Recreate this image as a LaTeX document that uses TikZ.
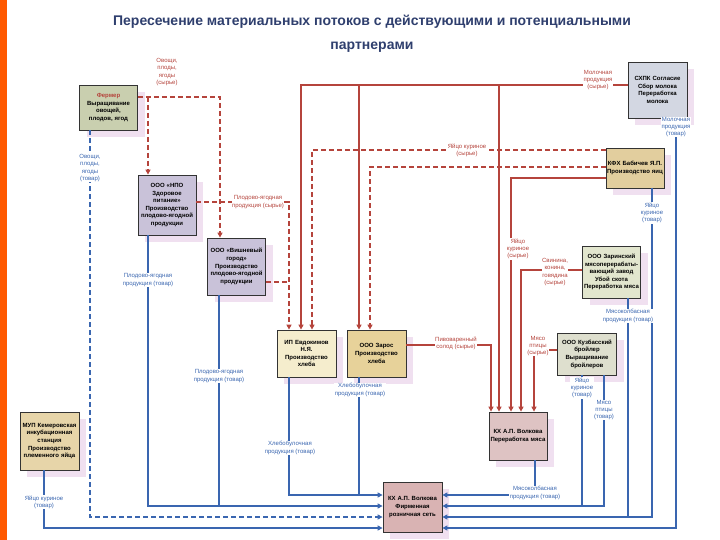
\documentclass[tikz,border=0pt]{standalone}
\usepackage{fontspec}
\setmainfont{Liberation Sans}
\usetikzlibrary{arrows.meta,shadows}
\definecolor{rl}{HTML}{B5443C}
\definecolor{bl}{HTML}{3A66B0}
\definecolor{tt}{HTML}{2F3F6E}
\definecolor{cferm}{HTML}{C9CFAF}
\definecolor{clav}{HTML}{C9C2D9}
\definecolor{cschpk}{HTML}{D3D7E2}
\definecolor{ckfh}{HTML}{E2CE9E}
\definecolor{czar}{HTML}{E2E6CE}
\definecolor{cip}{HTML}{F5EDCD}
\definecolor{czaros}{HTML}{E7D29A}
\definecolor{ckuz}{HTML}{DEDFCE}
\definecolor{ckxp}{HTML}{DEC3C3}
\definecolor{ckxr}{HTML}{D9B3B3}
\definecolor{cmup}{HTML}{E7D5A9}
\begin{document}
\begin{tikzpicture}[x=1pt,y=-1pt,
 box/.style={draw=black!80,line width=0.8pt,align=center,font=\fontsize{6}{7.6}\selectfont\bfseries,inner sep=1pt,
   general shadow={shadow xshift=7pt,shadow yshift=-7pt,fill=violet!12}},
 rs/.style={draw=rl,line width=1.4pt},
 rd/.style={draw=rl,line width=1.4pt,dash pattern=on 5pt off 3pt},
 bs/.style={draw=bl,line width=1.4pt},
 bd/.style={draw=bl,line width=1.4pt,dash pattern=on 5pt off 3pt},
 ar/.style={-{Triangle[length=5pt,width=5pt]}},
 rlab/.style={text=rl,fill=white,align=center,font=\fontsize{6}{7.2}\selectfont,inner sep=0.5pt},
 blab/.style={text=bl,fill=white,align=center,font=\fontsize{6}{7.2}\selectfont,inner sep=0.5pt}]
\useasboundingbox (0,0) rectangle (720,540);
\fill[white] (0,0) rectangle (720,540);
\fill[orange!70!red] (0,0) rectangle (7,540);
\node[text=tt,font=\fontsize{14}{24}\selectfont\bfseries,align=center] (title) at (372,34)
 {Пересечение материальных потоков с действующими и потенциальными\\партнерами};
% boxes
\node[box,fill=cferm,minimum width=57,minimum height=45,text width=56] (ferm) at (108.5,107.5) {\textcolor{rl}{Фермер}\\Выращивание овощей, плодов, ягод};
\node[box,fill=clav,minimum width=58,minimum height=60,text width=56] (npo) at (167,205) {ООО «НПО Здоровое питание» Производство плодово-ягодной продукции};
\node[box,fill=clav,minimum width=57,minimum height=57,text width=56] (vish) at (236.5,266.5) {ООО «Вишневый город» Производство плодово-ягодной продукции};
\node[box,fill=cschpk,minimum width=59,minimum height=56,text width=56] (schpk) at (657.5,90) {СХПК Согласие Сбор молока Переработка молока};
\node[box,fill=ckfh,minimum width=58,minimum height=40,text width=56] (kfh) at (635,168) {КФХ Бабичев Я.П. Производство яиц};
\node[box,fill=czar,minimum width=57,minimum height=52,text width=56] (zar) at (611.5,272) {ООО Заринский мясоперерабаты-\\вающий завод Убой скота Переработка мяса};
\node[box,fill=cip,minimum width=59,minimum height=47,text width=56] (ip) at (306.5,353.5) {ИП Евдокимов Н.Я. Производство хлеба};
\node[box,fill=czaros,minimum width=59,minimum height=47,text width=56] (zaros) at (376.5,353.5) {ООО Зарос Производство хлеба};
\node[box,fill=ckuz,minimum width=58,minimum height=42,text width=57] (kuz) at (587,354) {ООО Кузбасский бройлер Выращивание бройлеров};
\node[box,fill=ckxp,minimum width=58,minimum height=48,text width=56] (kxp) at (518,436) {КХ А.П. Волкова Переработка мяса};
\node[box,fill=ckxr,minimum width=59,minimum height=50,text width=56] (kxr) at (412.5,507) {КХ А.П. Волкова Фирменная розничная сеть};
\node[box,fill=cmup,minimum width=59,minimum height=58,text width=57] (mup) at (49.5,441) {МУП Кемеровская инкубационная станция Производство племенного яйца};
% red solid
\draw[rs,ar] ([yshift=5pt]schpk.west) -- (301,85) -- ([xshift=-5.5pt]ip.north);
\draw[rs,ar] (359,85) -- ([xshift=-17.5pt]zaros.north);
\draw[rs,ar] (499,85) -- ([xshift=-19pt]kxp.north);
\draw[rs,ar] ([yshift=-10pt]kfh.west) -- (511,178) -- ([xshift=-7pt]kxp.north);
\draw[rs,ar] ([yshift=2pt]zar.west) -- (521,270) -- ([xshift=3pt]kxp.north);
\draw[rs,ar] ([yshift=4pt]kuz.west) -- (534,350) -- ([xshift=16pt]kxp.north);
\draw[rs,ar] ([yshift=8.5pt]zaros.east) -- (491,345) -- ([xshift=-27pt]kxp.north);
% red dashed
\draw[rd,ar] ([yshift=18pt]kfh.west) -- (312,150) -- ([xshift=5.5pt]ip.north);
\draw[rd,ar] ([yshift=1pt]kfh.west) -- (370,167) -- ([xshift=-6.5pt]zaros.north);
\draw[rd,ar] ([yshift=10.5pt]ferm.east) -- (220,97) -- ([xshift=-16.5pt]vish.north);
\draw[rd,ar] (148,97) -- ([xshift=-19pt]npo.north);
\draw[rd,ar] ([yshift=3pt]npo.east) -- (289,202) -- ([xshift=-17.5pt]ip.north);
\draw[rd] ([yshift=-15.5pt]vish.east) -- (289,282);
% blue left
\draw[bd,ar] ([xshift=-18.5pt]ferm.south) -- (90,517) -- ([yshift=-10pt]kxr.west);
\draw[bs,ar] ([xshift=-19pt]npo.south) -- (148,506) -- ([yshift=1pt]kxr.west);
\draw[bs] ([xshift=-17.5pt]vish.south) -- (219,506);
\draw[bs,ar] ([xshift=-17.5pt]ip.south) -- (289,495) -- ([yshift=12pt]kxr.west);
\draw[bs] ([xshift=-17.5pt]zaros.south) -- (359,495);
\draw[bs,ar] ([xshift=-5.5pt]mup.south) -- (44,528) -- ([yshift=-21pt]kxr.west);
% blue right
\draw[bs,ar] ([xshift=17pt]kxp.south) -- (535,495) -- ([yshift=12pt]kxr.east);
\draw[bs,ar] ([xshift=-5pt]kuz.south) -- (582,506) -- ([yshift=1pt]kxr.east);
\draw[bs] ([xshift=17pt]kuz.south) -- (604,506) -- (582,506);
\draw[bs,ar] ([xshift=16.5pt]zar.south) -- (628,517) -- ([yshift=-10pt]kxr.east);
\draw[bs] ([xshift=17pt]kfh.south) -- (652,517) -- (628,517);
\draw[bs,ar] ([xshift=18.5pt]schpk.south) -- (676,528) -- ([yshift=-21pt]kxr.east);
% labels
\node[rlab] (l1) at (167,72) {Овощи,\\плоды,\\ягоды\\(сырье)};
\node[blab] (l2) at (90,168) {Овощи,\\плоды,\\ягоды\\(товар)};
\node[rlab] (l3) at (598,80) {Молочная\\продукция\\(сырье)};
\node[blab] (l4) at (676,127) {Молочная\\продукция\\(товар)};
\node[rlab] (l5) at (467,150) {Яйцо куриное\\(сырье)};
\node[rlab] (l6) at (258,202) {Плодово-ягодная\\продукция (сырье)};
\node[blab] (l7) at (652,213) {Яйцо\\куриное\\(товар)};
\node[rlab] (l8) at (518,249) {Яйцо\\куриное\\(сырье)};
\node[rlab] (l9) at (555,272) {Свинина,\\конина,\\говядина\\(сырье)};
\node[blab] (l10) at (148,280) {Плодово-ягодная\\продукция (товар)};
\node[blab] (l11) at (628,316) {Мясоколбасная\\продукция (товар)};
\node[rlab] (l12) at (456,343) {Пивоваренный\\солод (сырье)};
\node[rlab] (l13) at (538,346) {Мясо\\птицы\\(сырье)};
\node[blab] (l14) at (219,376) {Плодово-ягодная\\продукция (товар)};
\node[blab] (l15) at (360,390) {Хлебобулочная\\продукция (товар)};
\node[blab] (l16) at (582,388) {Яйцо\\куриное\\(товар)};
\node[blab] (l17) at (604,410) {Мясо\\птицы\\(товар)};
\node[blab] (l18) at (290,448) {Хлебобулочная\\продукция (товар)};
\node[blab] (l19) at (535,493) {Мясоколбасная\\продукция (товар)};
\node[blab] (l20) at (44,502) {Яйцо куриное\\(товар)};
\end{tikzpicture}
\end{document}
